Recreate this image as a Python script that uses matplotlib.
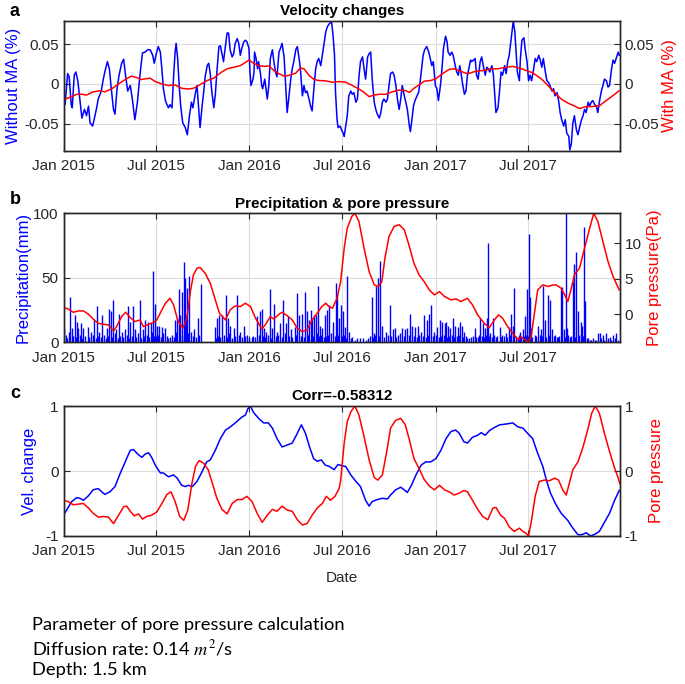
import numpy as np
import matplotlib.pyplot as plt
import matplotlib.dates as mdates

plt.rcParams['font.family'] = ['Liberation Sans', 'DejaVu Sans']
plt.rcParams['mathtext.fontset'] = 'stix'

START = np.datetime64('2015-01-01')
END_DAY = 1092

# (day since 2015-01-01, value) pairs

# a: velocity change without moving average (%)
vel_raw = [
    (0, -0.023), (3, -0.026), (8, 0.013), (11, 0.009), (15, -0.026), (17, -0.030), (21, 0.011), (24, 0.015),
    (28, 0.004), (32, -0.019), (36, -0.043), (41, -0.032), (45, -0.040), (49, -0.028), (52, -0.049), (57, -0.053),
    (60, -0.045), (65, -0.030), (68, -0.019), (74, -0.009), (78, 0.006), (81, 0.015), (86, 0.028), (90, 0.019),
    (93, -0.002), (98, -0.032), (101, -0.038), (105, -0.006), (109, 0.011), (114, 0.026), (118, 0.031), (122, 0.009),
    (126, -0.009), (131, -0.002), (135, -0.019), (140, -0.045), (145, -0.023), (148, -0.002), (152, 0.023), (155, 0.039),
    (160, 0.040), (165, 0.043), (170, 0.043), (175, 0.036), (178, 0.026), (182, 0.038), (186, 0.047), (190, 0.040),
    (193, 0.019), (196, -0.006), (200, -0.021), (203, -0.026), (206, -0.030), (209, -0.026), (213, -0.030), (216, 0.009),
    (219, 0.040), (221, 0.051), (224, 0.032), (227, -0.002), (230, -0.028), (234, -0.049), (239, -0.055), (243, -0.064),
    (247, -0.041), (251, -0.023), (254, -0.030), (259, -0.011), (262, -0.002), (265, -0.028), (268, -0.055), (272, -0.028),
    (275, -0.011), (278, 0.009), (282, 0.023), (285, 0.026), (288, 0.013), (291, -0.009), (295, -0.030), (298, -0.013),
    (301, 0.015), (305, 0.047), (308, 0.048), (311, 0.038), (314, 0.028), (318, 0.049), (321, 0.064), (324, 0.064),
    (327, 0.043), (331, 0.034), (334, 0.038), (337, 0.051), (341, 0.057), (344, 0.051), (347, 0.036), (350, 0.045),
    (354, 0.053), (357, 0.055), (360, 0.053), (364, 0.045), (366, 0.015), (368, -0.002), (372, 0.006), (374, 0.015),
    (375, 0.040), (378, 0.032), (381, 0.019), (383, 0.028), (387, 0.011), (389, -0.002), (391, -0.006), (395, 0.006),
    (398, -0.009), (400, -0.019), (403, -0.002), (406, 0.032), (410, 0.043), (413, 0.028), (416, 0.015), (419, 0.009),
    (423, 0.040), (426, 0.045), (429, 0.051), (433, 0.034), (436, -0.002), (439, -0.036), (442, -0.019), (446, 0.006),
    (449, 0.019), (452, 0.028), (456, 0.043), (459, 0.047), (462, 0.034), (465, 0.019), (469, -0.015), (472, -0.002),
    (475, -0.011), (478, -0.009), (482, -0.019), (485, -0.028), (488, -0.034), (492, -0.002), (495, 0.019), (498, 0.028),
    (501, 0.032), (505, 0.023), (508, 0.036), (511, 0.049), (515, 0.066), (518, 0.072), (521, 0.075), (524, 0.077),
    (526, 0.079), (529, 0.062), (532, 0.036), (534, -0.011), (537, -0.045), (539, -0.055), (543, -0.053), (546, -0.058),
    (549, -0.062), (551, -0.066), (554, -0.053), (557, -0.040), (560, -0.015), (564, -0.009), (567, -0.013), (570, -0.011),
    (574, -0.023), (577, -0.019), (580, 0.009), (583, 0.028), (587, 0.034), (590, 0.019), (593, 0.006), (597, 0.034),
    (600, 0.038), (603, 0.040), (606, 0.006), (610, -0.023), (613, -0.032), (616, -0.038), (620, -0.043), (623, -0.036),
    (626, -0.023), (629, -0.019), (633, -0.023), (636, -0.019), (639, -0.002), (642, 0.013), (646, 0.015), (649, 0.011),
    (652, 0.000), (656, -0.021), (659, -0.032), (662, -0.019), (665, -0.002), (669, -0.015), (672, -0.023), (675, -0.032),
    (679, -0.053), (681, -0.060), (684, -0.045), (687, -0.028), (690, -0.021), (694, -0.015), (697, -0.011), (700, 0.002),
    (703, 0.019), (706, 0.036), (709, 0.043), (713, 0.047), (717, 0.040), (720, 0.032), (723, 0.023), (726, 0.028),
    (730, -0.002), (733, -0.006), (736, -0.021), (740, -0.002), (743, 0.019), (746, 0.045), (750, 0.060), (753, 0.053),
    (755, 0.040), (759, 0.036), (762, 0.040), (765, 0.036), (769, 0.023), (772, 0.015), (775, 0.011), (778, 0.023),
    (780, 0.015), (784, -0.002), (787, -0.013), (790, -0.009), (793, 0.011), (797, 0.023), (799, 0.030), (801, 0.028),
    (805, 0.030), (808, 0.032), (811, 0.011), (814, 0.006), (818, 0.028), (821, 0.034), (824, 0.023), (828, 0.011),
    (831, 0.021), (834, 0.019), (837, 0.015), (841, 0.023), (844, 0.011), (847, -0.017), (849, -0.036), (853, -0.030),
    (856, -0.009), (859, 0.015), (862, 0.011), (866, 0.023), (869, 0.013), (872, 0.028), (875, 0.036), (879, 0.058),
    (881, 0.070), (883, 0.079), (886, 0.066), (889, 0.036), (891, 0.015), (895, 0.004), (897, 0.032), (900, 0.055),
    (904, 0.058), (906, 0.045), (910, 0.028), (913, 0.004), (916, 0.011), (919, 0.004), (923, 0.019), (926, 0.032),
    (929, 0.028), (933, 0.036), (936, 0.030), (939, 0.021), (942, 0.032), (946, 0.015), (949, 0.004), (952, 0.002),
    (955, -0.002), (959, -0.009), (962, -0.006), (965, -0.015), (969, -0.011), (972, -0.021), (975, -0.036), (978, -0.045),
    (982, -0.053), (985, -0.045), (988, -0.062), (992, -0.066), (994, -0.083), (997, -0.075), (1000, -0.049), (1003, -0.040),
    (1007, -0.058), (1010, -0.064), (1013, -0.055), (1017, -0.045), (1020, -0.040), (1023, -0.032), (1026, -0.036),
    (1030, -0.023), (1033, -0.028), (1036, -0.023), (1039, -0.021), (1043, -0.026), (1046, -0.028), (1049, -0.036),
    (1053, -0.019), (1056, -0.009), (1059, -0.002), (1062, 0.006), (1066, 0.004), (1069, -0.004), (1072, -0.002),
    (1076, 0.019), (1079, 0.030), (1082, 0.026), (1085, 0.032), (1089, 0.040), (1091, 0.036),
]

# a: velocity change with moving average (%)
vel_ma = [
    (0, -0.020), (16, -0.016), (26, -0.013), (36, -0.013), (45, -0.014), (58, -0.010), (72, -0.0085), (81, -0.010),
    (95, -0.006), (108, 0.0), (121, 0.0055), (133, 0.0098), (144, 0.008), (152, 0.0055), (160, 0.0064), (170, 0.0072),
    (180, 0.003), (193, 0.0), (206, -0.002), (219, -0.0013), (232, -0.0055), (245, -0.0064), (255, -0.0055),
    (268, -0.0009), (282, 0.0043), (295, 0.0072), (308, 0.014), (321, 0.019), (334, 0.021), (347, 0.023), (357, 0.027),
    (364, 0.030), (374, 0.0256), (383, 0.023), (396, 0.022), (403, 0.0226), (413, 0.017), (423, 0.0128), (433, 0.0098),
    (442, 0.0107), (456, 0.0136), (465, 0.020), (472, 0.019), (482, 0.0107), (492, 0.0055), (501, 0.0043), (515, 0.0038),
    (528, 0.0021), (541, 0.003), (554, 0.0021), (567, -0.002), (580, -0.0064), (590, -0.0107), (600, -0.016),
    (610, -0.014), (620, -0.013), (633, -0.013), (646, -0.0098), (659, -0.0077), (672, -0.0085), (679, -0.0107),
    (688, -0.0055), (698, -0.0013), (708, 0.0034), (721, 0.0043), (731, 0.0064), (741, 0.0115), (757, 0.0183),
    (767, 0.019), (780, 0.0158), (793, 0.0128), (810, 0.016), (826, 0.017), (839, 0.019), (852, 0.019), (869, 0.021),
    (882, 0.022), (895, 0.020), (908, 0.017), (921, 0.014), (938, 0.0064), (951, -0.002), (964, -0.0107), (977, -0.019),
    (990, -0.024), (1003, -0.0277), (1013, -0.031), (1026, -0.0285), (1039, -0.0285), (1053, -0.027), (1062, -0.0226),
    (1076, -0.016), (1091, -0.0085),
]

# b: daily precipitation (mm)
rain = [
    (1, 11), (13, 35), (17, 11), (22, 21), (26, 16), (29, 11), (34, 15), (39, 11), (47, 12), (54, 8), (60, 17),
    (65, 28), (70, 8), (75, 21), (85, 11), (90, 26), (93, 24), (98, 33), (103, 10), (108, 22), (114, 8), (121, 10),
    (126, 28), (131, 16), (136, 28), (140, 10), (150, 33), (155, 10), (160, 17), (165, 16), (171, 15), (175, 55),
    (179, 30), (183, 13), (188, 13), (193, 12), (200, 11), (209, 4), (219, 17), (223, 19), (226, 41), (229, 21),
    (232, 39), (236, 62), (238, 50), (241, 21), (243, 42), (247, 51), (251, 8), (257, 10), (263, 19), (270, 45),
    (297, 12), (301, 19), (305, 21), (311, 21), (318, 37), (323, 19), (327, 13), (334, 11), (341, 37), (347, 8),
    (354, 13), (360, 6), (370, 4), (380, 20), (385, 24), (389, 26), (393, 11), (398, 8), (406, 41), (410, 11),
    (414, 30), (419, 8), (424, 15), (431, 33), (436, 15), (440, 20), (446, 10), (454, 12), (459, 38), (463, 21),
    (469, 22), (474, 39), (477, 24), (482, 17), (485, 25), (488, 19), (492, 21), (495, 21), (499, 44), (503, 13),
    (508, 11), (513, 21), (518, 25), (522, 29), (529, 16), (534, 46), (537, 38), (541, 19), (544, 29), (549, 24),
    (553, 12), (557, 51), (561, 8), (567, 4), (577, 3), (587, 3), (597, 3), (605, 35), (610, 7), (614, 44),
    (618, 50), (622, 63), (626, 13), (633, 8), (641, 29), (646, 10), (650, 11), (656, 6), (665, 11), (671, 10),
    (675, 11), (681, 22), (685, 13), (690, 12), (695, 13), (701, 8), (708, 21), (713, 17), (718, 22), (722, 29),
    (728, 8), (734, 12), (739, 17), (744, 16), (749, 15), (751, 16), (755, 13), (759, 11), (764, 19), (769, 13),
    (774, 12), (779, 16), (782, 13), (787, 8), (793, 3), (800, 4), (807, 11), (813, 4), (818, 19), (823, 15),
    (828, 11), (832, 19), (834, 77), (838, 7), (843, 19), (849, 4), (856, 12), (860, 6), (869, 7), (874, 12),
    (879, 22), (882, 13), (885, 42), (892, 4), (897, 8), (902, 10), (906, 20), (910, 41), (913, 84), (915, 35),
    (918, 11), (925, 6), (931, 13), (938, 10), (942, 44), (946, 17), (951, 37), (955, 33), (959, 10), (965, 6),
    (971, 4), (976, 41), (979, 43), (982, 10), (986, 100), (989, 11), (994, 4), (1000, 47), (1003, 61), (1007, 70),
    (1010, 24), (1015, 16), (1018, 13), (1022, 89), (1024, 32), (1030, 3), (1036, 2), (1043, 2), (1049, 7),
    (1053, 7), (1059, 6), (1066, 7), (1072, 4), (1079, 6), (1085, 7),
    # light rain days
    (4, 6), (7, 3), (10, 8), (19, 5), (24, 4), (32, 6), (37, 3), (43, 5), (50, 4), (57, 6), (63, 3), (68, 5),
    (73, 4), (80, 6), (83, 3), (88, 5), (95, 4), (101, 7), (106, 3), (111, 5), (117, 4), (124, 6), (129, 3),
    (134, 5), (143, 4), (146, 7), (153, 3), (158, 5), (163, 6), (168, 4), (173, 8), (177, 5), (181, 3), (186, 6),
    (191, 4), (196, 7), (203, 5), (206, 3), (212, 6), (216, 4), (221, 8), (233, 6), (245, 7), (254, 5), (260, 4),
    (266, 6), (300, 3), (304, 5), (308, 4), (315, 6), (320, 4), (325, 7), (330, 3), (337, 5), (344, 6), (350, 4),
    (357, 5), (364, 3), (372, 5), (376, 4), (383, 6), (391, 5), (396, 4), (402, 6), (408, 3), (417, 5), (422, 6),
    (428, 4), (434, 7), (443, 5), (449, 4), (457, 6), (466, 5), (472, 4), (480, 6), (490, 5), (497, 7), (501, 5),
    (506, 6), (511, 4), (516, 5), (520, 6), (526, 7), (532, 5), (539, 6), (546, 4), (551, 6), (555, 3), (564, 3),
    (572, 2), (582, 3), (593, 2), (602, 5), (607, 4), (612, 6), (620, 5), (629, 4), (637, 6), (643, 5), (653, 4),
    (660, 7), (668, 5), (678, 6), (688, 5), (693, 4), (698, 6), (705, 5), (711, 4), (716, 6), (725, 5), (731, 6),
    (737, 4), (742, 5), (747, 6), (753, 4), (757, 5), (762, 6), (767, 4), (772, 5), (777, 6), (785, 4), (790, 5),
    (797, 3), (803, 5), (810, 4), (816, 6), (821, 5), (826, 4), (830, 6), (836, 5), (841, 4), (846, 6), (852, 5),
    (858, 4), (864, 5), (871, 4), (877, 6), (888, 5), (894, 6), (899, 4), (904, 5), (908, 6), (920, 4), (928, 5),
    (935, 6), (940, 5), (948, 4), (953, 6), (962, 5), (968, 4), (973, 5), (984, 4), (991, 6), (997, 5), (1005, 4),
    (1013, 6), (1020, 5), (1027, 3), (1033, 2), (1040, 3), (1046, 2), (1056, 3), (1062, 2), (1069, 3), (1075, 2),
    (1082, 3), (1088, 2),
]

# b: pore pressure (Pa)
pore = [
    (0, 0.94), (9, 0.75), (19, 0.28), (29, 0.47), (39, 0.47), (49, 0.0), (58, -0.66), (68, -1.27), (78, -1.41),
    (88, -1.5), (98, -2.35), (104, -1.74), (114, -0.33), (122, 0.28), (131, -0.47), (140, -1.03), (150, -0.8),
    (157, -1.74), (167, -1.41), (177, -1.13), (183, -0.8), (192, 0.47), (200, 1.55), (209, 2.25), (216, 1.31),
    (224, -0.8), (234, -1.97), (242, -0.56), (249, 3.19), (255, 5.54), (262, 6.48), (268, 6.57), (278, 5.77),
    (288, 4.37), (297, 2.25), (306, 0.14), (318, -0.8), (327, 0.61), (337, 1.17), (347, 1.08), (357, 1.55),
    (367, 1.08), (377, -0.56), (389, -2.07), (396, -1.5), (406, -0.33), (413, -0.66), (423, 0.0), (429, 0.28),
    (439, -0.19), (449, -0.8), (459, -1.97), (469, -2.44), (478, -2.21), (488, -0.8), (498, 0.14), (507, 1.08),
    (515, 1.55), (521, 1.08), (528, 0.85), (537, 2.25), (544, 4.6), (551, 9.3), (557, 12.1), (566, 13.76),
    (572, 14.2), (580, 13.05), (590, 9.3), (600, 6.0), (610, 4.13), (618, 3.9), (625, 4.6), (631, 7.89),
    (639, 10.94), (649, 12.35), (659, 12.58), (669, 11.88), (678, 9.77), (688, 7.18), (698, 5.54), (708, 4.6),
    (718, 3.43), (728, 2.72), (738, 3.19), (748, 2.49), (761, 2.02), (771, 2.16), (780, 1.78), (793, 2.25),
    (803, 1.31), (813, -0.09), (826, -1.27), (836, -1.88), (846, -0.8), (854, -0.09), (862, -0.56), (872, -1.74),
    (882, -2.68), (892, -3.62), (898, -3.15), (906, -3.62), (913, -3.94), (918, -3.15), (925, 0.38), (931, 3.43),
    (941, 4.13), (951, 3.9), (961, 4.13), (967, 4.13), (977, 3.66), (984, 2.72), (990, 1.78), (997, 3.66),
    (1003, 5.54), (1013, 6.48), (1023, 9.3), (1033, 12.1), (1041, 14.2), (1049, 13.05), (1059, 10.23),
    (1069, 7.42), (1079, 5.31), (1091, 3.43),
]

# c: normalised velocity change
vel_norm = [
    (0, -0.68), (6, -0.60), (16, -0.47), (26, -0.41), (32, -0.42), (39, -0.45), (49, -0.38), (58, -0.29), (68, -0.27),
    (75, -0.32), (81, -0.36), (91, -0.32), (101, -0.24), (111, -0.04), (121, 0.14), (131, 0.32), (137, 0.33),
    (147, 0.25), (154, 0.21), (160, 0.26), (167, 0.28), (173, 0.21), (180, 0.09), (190, -0.03), (196, -0.03),
    (206, -0.09), (216, -0.06), (223, -0.11), (232, -0.22), (239, -0.24), (245, -0.22), (253, -0.24), (262, -0.16),
    (272, -0.01), (281, 0.14), (288, 0.17), (298, 0.32), (308, 0.50), (318, 0.63), (324, 0.66), (334, 0.72),
    (343, 0.78), (350, 0.83), (357, 0.86), (362, 0.96), (367, 1.0), (373, 0.90), (383, 0.81), (393, 0.74),
    (402, 0.74), (410, 0.66), (419, 0.50), (429, 0.37), (439, 0.40), (449, 0.43), (457, 0.55), (467, 0.71),
    (475, 0.58), (483, 0.37), (491, 0.19), (498, 0.15), (506, 0.17), (514, 0.09), (522, 0.07), (531, 0.02),
    (539, 0.10), (547, 0.08), (554, 0.07), (564, -0.06), (574, -0.16), (583, -0.24), (593, -0.45), (600, -0.54),
    (606, -0.47), (616, -0.44), (626, -0.42), (636, -0.43), (642, -0.37), (652, -0.29), (662, -0.25), (669, -0.29),
    (675, -0.33), (683, -0.22), (692, -0.06), (702, 0.09), (711, 0.14), (721, 0.14), (731, 0.19), (741, 0.32),
    (751, 0.50), (761, 0.61), (770, 0.63), (777, 0.58), (786, 0.45), (793, 0.43), (803, 0.52), (813, 0.55),
    (820, 0.59), (828, 0.55), (836, 0.62), (846, 0.67), (856, 0.71), (866, 0.72), (875, 0.73), (882, 0.74),
    (892, 0.68), (902, 0.66), (911, 0.58), (921, 0.50), (931, 0.27), (941, 0.07), (948, -0.14), (956, -0.34),
    (967, -0.52), (977, -0.65), (990, -0.76), (1000, -0.88), (1010, -0.98), (1018, -0.98), (1026, -0.95),
    (1035, -1.0), (1044, -0.97), (1052, -0.93), (1062, -0.79), (1072, -0.65), (1082, -0.45), (1091, -0.30),
]

# c: normalised pore pressure
pore_norm = [
    (0, -0.45), (9, -0.47), (19, -0.52), (29, -0.51), (39, -0.50), (49, -0.57), (58, -0.65), (68, -0.71),
    (78, -0.70), (88, -0.71), (98, -0.81), (108, -0.68), (118, -0.55), (124, -0.54), (131, -0.62), (139, -0.69),
    (147, -0.66), (155, -0.74), (163, -0.70), (173, -0.68), (183, -0.63), (193, -0.50), (203, -0.36), (211, -0.32),
    (219, -0.47), (228, -0.70), (236, -0.76), (244, -0.60), (252, -0.19), (259, 0.07), (266, 0.16), (275, 0.12),
    (284, 0.02), (291, -0.16), (301, -0.42), (311, -0.59), (321, -0.66), (331, -0.50), (341, -0.44), (350, -0.44),
    (360, -0.39), (370, -0.47), (380, -0.65), (390, -0.79), (400, -0.68), (410, -0.59), (419, -0.62), (429, -0.54),
    (439, -0.60), (449, -0.62), (459, -0.75), (469, -0.83), (478, -0.81), (488, -0.68), (498, -0.57), (508, -0.50),
    (516, -0.39), (524, -0.45), (533, -0.39), (541, -0.27), (544, -0.15), (551, 0.43), (557, 0.76), (564, 0.91),
    (572, 1.0), (580, 0.86), (590, 0.53), (600, 0.17), (610, -0.10), (617, -0.14), (626, -0.06), (635, 0.32),
    (642, 0.66), (652, 0.78), (662, 0.81), (671, 0.71), (679, 0.48), (688, 0.19), (698, 0.04), (708, -0.13),
    (718, -0.23), (728, -0.29), (738, -0.22), (748, -0.29), (757, -0.32), (767, -0.37), (777, -0.34), (786, -0.30),
    (793, -0.32), (803, -0.45), (813, -0.59), (823, -0.70), (833, -0.75), (843, -0.57), (849, -0.56), (858, -0.68),
    (866, -0.73), (875, -0.86), (885, -0.93), (895, -0.88), (902, -0.93), (908, -0.96), (913, -1.0), (919, -0.75),
    (926, -0.39), (934, -0.16), (944, -0.14), (954, -0.15), (964, -0.11), (972, -0.14), (980, -0.29), (987, -0.37),
    (993, -0.19), (1000, 0.02), (1010, 0.14), (1020, 0.37), (1030, 0.66), (1037, 0.89), (1044, 1.0), (1052, 0.89),
    (1062, 0.58), (1072, 0.30), (1081, 0.07), (1089, -0.11), (1092, -0.19),
]

notes = ["Parameter of pore pressure calculation",
         r"Diffusion rate: 0.14 $m^2$/s",
         "Depth: 1.5 km"]

BLUE = (0, 0, 1)
RED = (1, 0, 0)
INK = '#262626'


def split(pairs):
    # turn (day, value) pairs into dates and values
    arr = np.array(pairs, dtype=float)
    dates = START + arr[:, 0].astype(int).astype('timedelta64[D]')
    return dates, arr[:, 1]


def style(ax, ax2):
    ax.set_xlim(START, START + np.timedelta64(END_DAY, 'D'))
    ax.xaxis.set_major_locator(mdates.MonthLocator(bymonth=[1, 7]))
    ax.xaxis.set_major_formatter(mdates.DateFormatter('%b %Y'))
    ax.grid(True, color='#dcdcdc', lw=0.8)
    ax.set_axisbelow(True)
    ax.tick_params(axis='x', direction='in', top=True, length=4, labelsize=11, colors=INK, pad=6)
    ax.tick_params(axis='y', direction='in', length=4, labelsize=11, colors=INK)
    ax2.tick_params(axis='y', direction='in', length=4, labelsize=11, colors=INK)
    for a in (ax, ax2):
        for s in a.spines.values():
            s.set_color(INK)
            s.set_linewidth(1.0)


fig = plt.figure(figsize=(6.85, 6.84), dpi=100)
L, W = 0.0928, 0.8119

# a: velocity changes
axa = fig.add_axes([L, 0.7797, W, 0.190])
axa2 = axa.twinx()
d, v = split(vel_raw)
axa.plot(d, v, color=BLUE, lw=1.1)
d, v = split(vel_ma)
axa2.plot(d, v, color=RED, lw=1.1)
for a in (axa, axa2):
    a.set_ylim(-0.084, 0.0795)
    a.set_yticks([-0.05, 0, 0.05])
    a.set_yticklabels(['-0.05', '0', '0.05'])
axa.set_ylabel('Without MA (%)', color=BLUE, fontsize=12, labelpad=2)
axa2.set_ylabel('With MA (%)', color=RED, fontsize=12, labelpad=2)
axa.set_title('Velocity changes', fontsize=11, fontweight='bold', pad=4)
style(axa, axa2)

# b: precipitation & pore pressure
axb = fig.add_axes([L, 0.4996, W, 0.1886])
axb2 = axb.twinx()
d, v = split(rain)
axb.vlines(d, 0, v, colors=BLUE, lw=1.0)
d, v = split(pore)
axb2.plot(d, v, color=RED, lw=1.1)
axb.set_ylim(0, 100)
axb.set_yticks([0, 50, 100])
axb.set_yticklabels(['0', '50', '100'])
axb2.set_ylim(-3.94, 14.2)
axb2.set_yticks([0, 5, 10])
axb2.set_yticklabels(['0', '5', '10'])
axb.set_ylabel('Precipitation(mm)', color=BLUE, fontsize=12, labelpad=2)
axb2.set_ylabel('Pore pressure(Pa)', color=RED, fontsize=12, labelpad=4)
axb.set_title('Precipitation & pore pressure', fontsize=11, fontweight='bold', pad=4)
style(axb, axb2)

# c: normalised comparison
axc = fig.add_axes([L, 0.2164, W, 0.190])
axc2 = axc.twinx()
d, v = split(vel_norm)
axc.plot(d, v, color=BLUE, lw=1.1)
d, v = split(pore_norm)
axc2.plot(d, v, color=RED, lw=1.1)
for a in (axc, axc2):
    a.set_ylim(-1, 1)
    a.set_yticks([-1, 0, 1])
    a.set_yticklabels(['-1', '0', '1'])
axc.set_ylabel('Vel. change', color=BLUE, fontsize=12, labelpad=6)
axc2.set_ylabel('Pore pressure', color=RED, fontsize=12, labelpad=8)
axc.set_xlabel('Date', fontsize=11, color=INK, labelpad=9)
axc.set_title('Corr=-0.58312', fontsize=11, fontweight='bold', pad=4)
style(axc, axc2)

# panel letters
for lab, y in (('a', 12), ('b', 200), ('c', 393)):
    fig.text(10 / 685, 1 - y / 684, lab, fontsize=13, fontweight='bold', va='center')

# parameter notes
for i, line in enumerate(notes):
    fig.text(32 / 685, 1 - (625 + 22.5 * i) / 684, line, fontsize=13.2,
             family=['Lato', 'DejaVu Sans'], va='center')

fig.savefig('out.png', dpi=100)
